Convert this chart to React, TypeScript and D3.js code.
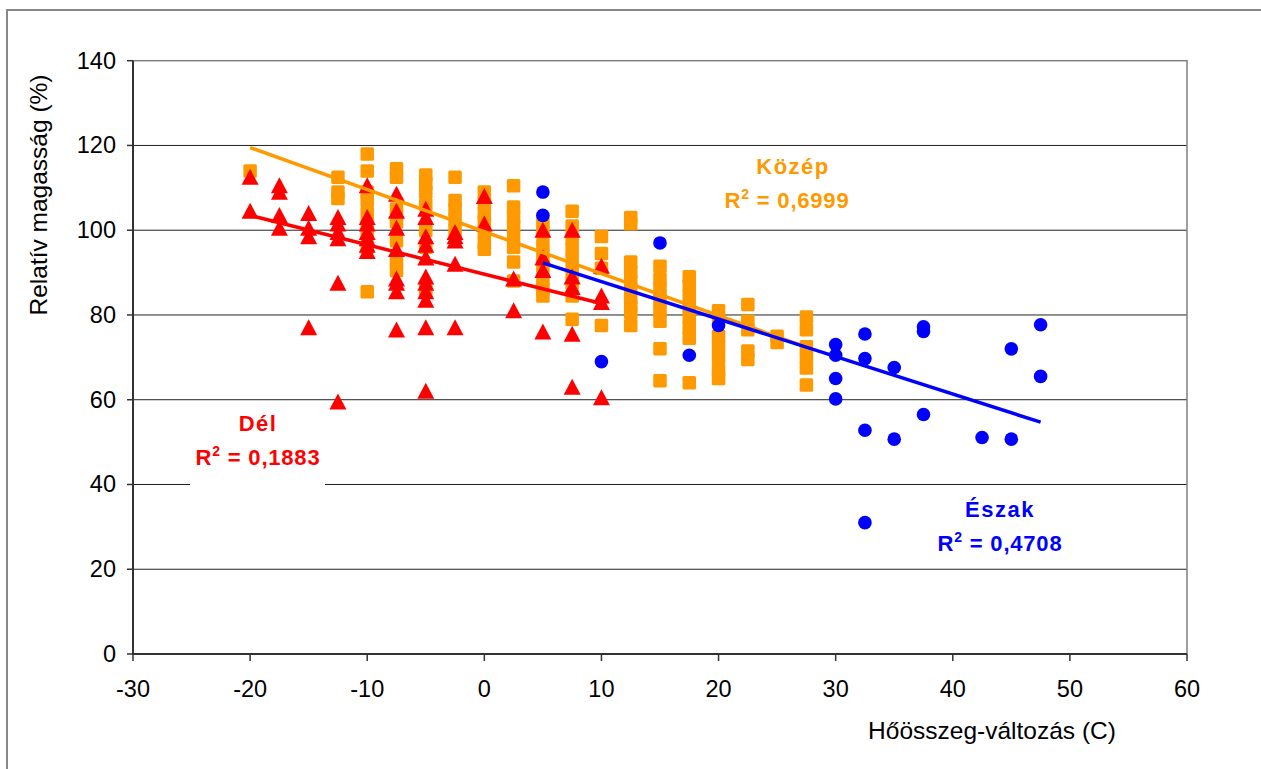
import * as d3 from "d3";

// axes
const xTicks = [-30, -20, -10, 0, 10, 20, 30, 40, 50, 60];
const yTicks = [0, 20, 40, 60, 80, 100, 120, 140];
const xTitle = "Hőösszeg-változás (C)";
const yTitle = "Relatív magasság (%)";

// Dél (red triangles)
const delCols = [-20, -17.5, -15, -12.5, -10, -7.5, -5, -2.5, 0, 2.5, 5, 7.5, 10];
const delVals = [
  [112, 104],
  [110, 108.5, 103, 100],
  [103.5, 100, 98, 76.5],
  [102.5, 101, 99, 97.5, 87, 59],
  [110, 102.5, 101, 99, 97.5, 96, 94.5],
  [108, 104, 100, 95, 88, 87, 85, 76],
  [104.5, 102.5, 98, 96, 93, 88.5, 87, 85, 83, 76.5, 61.5],
  [99, 98, 97, 91.5, 76.5],
  [107.5, 101],
  [88, 80.5],
  [99.5, 93, 90, 75.5],
  [99.5, 88.5, 86, 75, 62.5],
  [91, 84, 82.5, 60],
];

// Közép (orange squares)
const kozepCols = [-20, -12.5, -10, -7.5, -5, -2.5, 0, 2.5, 5, 7.5, 10, 12.5, 15, 17.5, 20, 22.5, 25, 27.5];
const kozepVals = [
  [114],
  [112.5, 109, 107.5],
  [118, 114, 109, 107, 104, 101, 99, 96, 85.5],
  [114.5, 112.5, 105, 102, 97.5, 93, 90.5],
  [113, 111, 109, 106, 100, 96, 86],
  [112.5, 107, 105, 102.5, 100],
  [109, 106.5, 104, 102, 99.5, 97, 95.5],
  [110.5, 105.5, 103, 101, 98.5, 96, 92.5, 88],
  [102, 99.5, 96.5, 94, 91.5, 88.5, 86, 84.5],
  [104.5, 101, 98, 95.5, 93, 90, 87.5, 84.5, 79],
  [98.5, 94.5, 91, 77.5],
  [103, 101.5, 92.5, 90, 88, 86, 84, 82, 80.5, 77.5],
  [91.5, 88.5, 86, 83.5, 81, 78.5, 72, 64.5],
  [89, 87, 84.5, 82, 79.5, 77, 74.5, 64],
  [81, 79, 75, 72.5, 70, 67, 65],
  [82.5, 78.5, 76.5, 71.5, 69.5],
  [75, 73.5],
  [79.5, 76.5, 72.5, 70, 67.5, 63.5],
];

// Észak (blue circles)
const eszakCols = [5, 10, 15, 17.5, 20, 30, 32.5, 35, 37.5, 42.5, 45, 47.5];
const eszakVals = [
  [109, 103.5],
  [69],
  [97],
  [70.5],
  [77.5],
  [73, 70.5, 65, 60.2],
  [75.5, 69.7, 52.8, 31],
  [67.6, 50.7],
  [77.2, 76.1, 56.5],
  [51.1],
  [72, 50.7],
  [77.7, 65.5],
];

// trend lines (endpoints)
const kozepTrend: [number, number][] = [[-20, 119.5], [27.5, 72.4]];
const delTrend: [number, number][] = [[-20, 103.5], [10, 82.7]];
const eszakTrend: [number, number][] = [[5, 92.3], [47.5, 54.7]];

const ORANGE = "#FF9900";
const RED = "#FF0000";
const BLUE = "#0000FF";

const flat = (cols: number[], vals: number[][]) =>
  cols.flatMap((x, i) => vals[i].map((y) => ({ x, y })));

export default function App() {
  const left = 133, right = 1187, top = 60.7, bottom = 654;
  const x = d3.scaleLinear().domain([-30, 60]).range([left, right]);
  const y = d3.scaleLinear().domain([0, 140]).range([bottom, top]);
  const line = d3.line<[number, number]>().x((d) => x(d[0])).y((d) => y(d[1]));

  const del = flat(delCols, delVals);
  const kozep = flat(kozepCols, kozepVals);
  const eszak = flat(eszakCols, eszakVals);

  const font = '"Liberation Sans", Arial, sans-serif';
  const sq = 13.5;

  const r2 = (val: string) => (
    <>
      R<tspan fontSize={14} dy={-9}>2</tspan>
      <tspan dy={9}> = {val}</tspan>
    </>
  );

  return (
    <svg
      width={1261}
      height={769}
      style={{ position: "absolute", left: 0, top: 0, fontFamily: font }}
    >
      <rect x={0} y={0} width={1261} height={769} fill="#fff" />
      <rect x={7} y={10} width={1270} height={780} fill="#fff" stroke="#888" strokeWidth={2} />

      {/* gridlines */}
      {yTicks.slice(1, -1).map((t) => (
        <line key={t} x1={left} x2={right} y1={y(t)} y2={y(t)} stroke="#222" strokeWidth={1} />
      ))}
      {/* plot border */}
      <rect x={left} y={top} width={right - left} height={bottom - top} fill="none" stroke="#808080" strokeWidth={1.5} />

      {/* white box behind Dél label */}
      <rect x={190} y={405} width={135} height={86} fill="#fff" />

      {/* axes */}
      <line x1={left} x2={left} y1={top} y2={bottom} stroke="#333" strokeWidth={2} />
      <line x1={left} x2={right} y1={bottom} y2={bottom} stroke="#333" strokeWidth={2} />
      {yTicks.map((t) => (
        <g key={t}>
          <line x1={left - 6} x2={left} y1={y(t)} y2={y(t)} stroke="#333" strokeWidth={1.5} />
          <text x={116} y={y(t) + 8} fontSize={23.5} textAnchor="end" fill="#000">
            {t}
          </text>
        </g>
      ))}
      {xTicks.map((t) => (
        <g key={t}>
          <line x1={x(t)} x2={x(t)} y1={bottom} y2={bottom + 7} stroke="#333" strokeWidth={1.5} />
          <text x={x(t)} y={697} fontSize={23.5} textAnchor="middle" fill="#000">
            {t}
          </text>
        </g>
      ))}
      <text x={992} y={739} fontSize={24.5} textAnchor="middle" fill="#000">
        {xTitle}
      </text>
      <text
        transform="translate(47,195) rotate(-90)"
        fontSize={24.5}
        textAnchor="middle"
        fill="#000"
      >
        {yTitle}
      </text>

      {/* markers */}
      {kozep.map((d, i) => (
        <rect key={"k" + i} x={x(d.x) - sq / 2} y={y(d.y) - sq / 2} width={sq} height={sq} rx={1.5} fill={ORANGE} />
      ))}
      {del.map((d, i) => {
        const cx = x(d.x), cy = y(d.y);
        return (
          <path key={"d" + i} d={`M${cx},${cy - 10.5}L${cx + 8.5},${cy + 5.5}L${cx - 8.5},${cy + 5.5}Z`} fill={RED} />
        );
      })}
      {eszak.map((d, i) => (
        <circle key={"e" + i} cx={x(d.x)} cy={y(d.y)} r={6.8} fill={BLUE} />
      ))}

      {/* trend lines */}
      <path d={line(kozepTrend) ?? ""} stroke={ORANGE} strokeWidth={3.5} fill="none" />
      <path d={line(delTrend) ?? ""} stroke={RED} strokeWidth={3.5} fill="none" />
      <path d={line(eszakTrend) ?? ""} stroke={BLUE} strokeWidth={3.5} fill="none" />

      {/* labels */}
      <g fontWeight="bold" fontSize={22} textAnchor="middle">
        <text x={793} y={174} fill={ORANGE} letterSpacing={1.5}>Közép</text>
        <text x={787} y={208} fill={ORANGE} letterSpacing={0.8}>{r2("0,6999")}</text>
        <text x={258} y={431} fill={RED} letterSpacing={1.5}>Dél</text>
        <text x={258} y={465} fill={RED} letterSpacing={0.8}>{r2("0,1883")}</text>
        <text x={1000} y={517} fill={BLUE} letterSpacing={1.5}>Észak</text>
        <text x={1000} y={551} fill={BLUE} letterSpacing={0.8}>{r2("0,4708")}</text>
      </g>
    </svg>
  );
}
